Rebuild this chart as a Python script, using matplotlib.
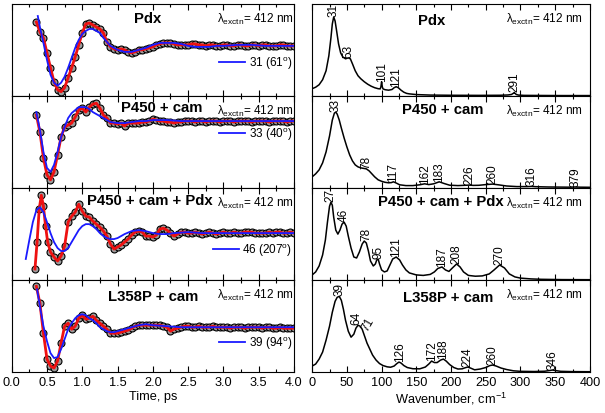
import numpy as np
import matplotlib
matplotlib.use('Agg')
import matplotlib.pyplot as plt
from matplotlib.ticker import MultipleLocator
from matplotlib.lines import Line2D

plt.rcParams['font.family'] = ['Liberation Sans', 'DejaVu Sans']
plt.rcParams['mathtext.fontset'] = 'custom'
plt.rcParams['mathtext.rm'] = 'Liberation Sans'
plt.rcParams['mathtext.it'] = 'Liberation Sans:italic'
plt.rcParams['mathtext.bf'] = 'Liberation Sans:bold'

### data (arbitrary units, panel height ~92)
names = ['Pdx', 'P450 + cam', 'P450 + cam + Pdx', 'L358P + cam']
fit_freq = [31, 33, 46, 39]
fit_phase = [61, 40, 207, 94]

# time-domain data + fit (t in ps, signal)
trace_pdx = [(0.35, 74), (0.40, 64), (0.45, 58), (0.50, 43), (0.55, 28), (0.60, 14), (0.65, 6), (0.70, 4),
             (0.75, 8), (0.80, 18), (0.85, 28), (0.90, 39), (0.95, 51), (1.00, 63), (1.05, 72), (1.10, 73),
             (1.15, 71), (1.20, 69), (1.25, 67), (1.30, 63), (1.35, 54), (1.40, 49), (1.45, 47), (1.50, 46),
             (1.55, 47), (1.60, 46), (1.65, 44), (1.70, 43), (1.75, 44), (1.80, 46), (1.85, 46), (1.90, 47),
             (1.95, 48), (2.00, 49), (2.05, 51), (2.10, 52), (2.15, 53), (2.20, 53), (2.25, 53), (2.30, 52),
             (2.35, 51), (2.40, 51), (2.45, 51), (2.50, 51), (2.55, 52), (2.60, 52), (2.65, 51), (2.70, 51),
             (2.75, 50), (2.80, 51), (2.85, 51), (2.90, 50), (2.95, 50), (3.00, 51), (3.05, 51), (3.10, 50),
             (3.15, 50), (3.20, 51), (3.25, 51), (3.30, 50), (3.35, 50), (3.40, 51), (3.45, 51), (3.50, 50),
             (3.55, 51), (3.60, 51), (3.65, 50), (3.70, 50), (3.75, 50), (3.80, 51), (3.85, 51), (3.90, 50),
             (3.95, 50), (4.00, 50)]
trace_p450 = [(0.35, 73), (0.40, 56), (0.45, 30), (0.50, 13), (0.55, 8), (0.60, 16), (0.65, 33), (0.70, 51),
              (0.75, 61), (0.80, 63), (0.85, 65), (0.90, 71), (0.95, 78), (1.00, 80), (1.05, 76), (1.10, 81),
              (1.15, 84), (1.20, 85), (1.25, 80), (1.30, 73), (1.35, 70), (1.40, 65), (1.45, 65), (1.50, 64),
              (1.55, 65), (1.60, 62), (1.65, 65), (1.70, 65), (1.75, 65), (1.80, 65), (1.85, 66), (1.90, 66),
              (1.95, 67), (2.00, 69), (2.05, 68), (2.10, 67), (2.15, 67), (2.20, 66), (2.25, 66), (2.30, 65),
              (2.35, 66), (2.40, 66), (2.45, 67), (2.50, 67), (2.55, 67), (2.60, 66), (2.65, 67), (2.70, 67),
              (2.75, 66), (2.80, 67), (2.85, 67), (2.90, 67), (2.95, 66), (3.00, 67), (3.05, 67), (3.10, 67),
              (3.15, 66), (3.20, 67), (3.25, 67), (3.30, 67), (3.35, 67), (3.40, 66), (3.45, 67), (3.50, 67),
              (3.55, 67), (3.60, 67), (3.65, 66), (3.70, 67), (3.75, 67), (3.80, 67), (3.85, 67), (3.90, 66),
              (3.95, 67), (4.00, 67)]
trace_mix = [(0.33, 11), (0.36, 38), (0.39, 71), (0.42, 85), (0.45, 74), (0.48, 54), (0.51, 38), (0.55, 28),
             (0.60, 23), (0.65, 19), (0.70, 24), (0.75, 34), (0.80, 58), (0.85, 64), (0.90, 68), (0.95, 76),
             (1.00, 69), (1.05, 64), (1.10, 63), (1.15, 59), (1.20, 56), (1.25, 53), (1.30, 49), (1.35, 44),
             (1.40, 36), (1.45, 31), (1.50, 33), (1.55, 35), (1.60, 38), (1.65, 41), (1.70, 45), (1.75, 48),
             (1.80, 49), (1.85, 48), (1.90, 44), (1.95, 44), (2.00, 43), (2.05, 45), (2.10, 51), (2.15, 52),
             (2.20, 50), (2.25, 47), (2.30, 44), (2.35, 46), (2.40, 48), (2.45, 48), (2.50, 47), (2.55, 47),
             (2.60, 48), (2.65, 47), (2.70, 46), (2.75, 47), (2.80, 48), (2.85, 47), (2.90, 46), (2.95, 47),
             (3.00, 48), (3.05, 47), (3.10, 47), (3.15, 48), (3.20, 47), (3.25, 47), (3.30, 48), (3.35, 48),
             (3.40, 48), (3.45, 47), (3.50, 47), (3.55, 47), (3.60, 47), (3.65, 48), (3.70, 47), (3.75, 48),
             (3.80, 48), (3.85, 47), (3.90, 47), (3.95, 48), (4.00, 47)]
trace_l358p = [(0.35, 86), (0.40, 69), (0.45, 39), (0.50, 13), (0.55, 6), (0.60, 4), (0.65, 11), (0.70, 29),
               (0.75, 46), (0.80, 49), (0.85, 43), (0.90, 46), (0.95, 54), (1.00, 57), (1.05, 53), (1.10, 54),
               (1.15, 56), (1.20, 52), (1.25, 49), (1.30, 46), (1.35, 43), (1.40, 39), (1.45, 39), (1.50, 39),
               (1.55, 40), (1.60, 41), (1.65, 42), (1.70, 44), (1.75, 46), (1.80, 47), (1.85, 47), (1.90, 47),
               (1.95, 47), (2.00, 47), (2.05, 47), (2.10, 47), (2.15, 46), (2.20, 45), (2.25, 41), (2.30, 43),
               (2.35, 44), (2.40, 45), (2.45, 46), (2.50, 46), (2.55, 45), (2.60, 45), (2.65, 46), (2.70, 45),
               (2.75, 45), (2.80, 45), (2.85, 46), (2.90, 45), (2.95, 45), (3.00, 45), (3.05, 45), (3.10, 44),
               (3.15, 45), (3.20, 45), (3.25, 45), (3.30, 44), (3.35, 45), (3.40, 45), (3.45, 45), (3.50, 45),
               (3.55, 44), (3.60, 45), (3.65, 45), (3.70, 44), (3.75, 44), (3.80, 45), (3.85, 44), (3.90, 44),
               (3.95, 44), (4.00, 44)]

# single-mode model (blue)
blue_pdx = [(0.37, 80), (0.40, 69), (0.45, 53), (0.50, 36), (0.55, 21), (0.60, 13), (0.65, 10), (0.70, 13),
            (0.75, 19), (0.80, 28), (0.85, 38), (0.90, 48), (0.95, 56), (1.00, 62), (1.05, 65), (1.10, 67),
            (1.15, 67), (1.20, 65), (1.25, 63), (1.30, 58), (1.35, 54), (1.40, 50), (1.45, 48), (1.50, 46),
            (1.55, 45), (1.60, 44), (1.65, 44), (1.70, 44), (1.75, 45), (1.80, 46), (1.90, 48), (2.00, 51),
            (2.10, 53), (2.20, 53), (2.30, 53), (2.40, 52), (2.50, 50), (2.60, 49), (2.70, 49), (2.80, 49),
            (2.90, 50), (3.00, 50), (3.20, 51), (3.40, 51), (3.60, 50), (3.80, 50), (4.00, 50)]
blue_p450 = [(0.35, 76), (0.40, 58), (0.45, 36), (0.50, 20), (0.55, 16), (0.60, 23), (0.65, 36), (0.70, 51),
             (0.75, 61), (0.80, 70), (0.85, 75), (0.90, 78), (0.95, 81), (1.00, 81), (1.05, 81), (1.10, 79),
             (1.15, 76), (1.20, 74), (1.25, 72), (1.30, 70), (1.35, 68), (1.40, 66), (1.50, 65), (1.60, 65),
             (1.70, 66), (1.80, 67), (1.90, 67), (2.00, 68), (2.20, 68), (2.40, 67), (2.70, 67), (3.00, 67),
             (3.50, 67), (4.00, 67)]
blue_mix = [(0.20, 21), (0.25, 40), (0.30, 58), (0.35, 70), (0.40, 73), (0.45, 68), (0.50, 58), (0.55, 47),
            (0.60, 38), (0.65, 32), (0.70, 29), (0.75, 29), (0.80, 32), (0.85, 38), (0.90, 44), (0.95, 50),
            (1.00, 54), (1.05, 56), (1.10, 56), (1.15, 54), (1.20, 51), (1.25, 47), (1.30, 44), (1.35, 42),
            (1.40, 41), (1.45, 41), (1.50, 42), (1.55, 44), (1.60, 46), (1.70, 49), (1.80, 50), (1.90, 49),
            (2.00, 47), (2.10, 46), (2.20, 46), (2.30, 47), (2.50, 48), (2.70, 47), (3.00, 47), (3.50, 47),
            (4.00, 47)]
blue_l358p = [(0.36, 83), (0.40, 66), (0.45, 46), (0.50, 31), (0.55, 19), (0.60, 14), (0.65, 15), (0.70, 23),
              (0.75, 33), (0.80, 43), (0.85, 49), (0.90, 54), (0.95, 57), (1.00, 58), (1.05, 57), (1.10, 54),
              (1.15, 52), (1.20, 49), (1.25, 45), (1.30, 43), (1.35, 41), (1.40, 40), (1.45, 40), (1.50, 41),
              (1.60, 43), (1.70, 45), (1.80, 47), (1.90, 48), (2.00, 47), (2.20, 46), (2.40, 45), (2.70, 45),
              (3.00, 45), (4.00, 45)]

# spectra (wavenumber cm-1, intensity)
spec_pdx = [(0, 7), (5, 8.5), (10, 11), (15, 16), (20, 25), (24, 40), (27, 58), (29, 72), (31, 79), (33, 75),
            (35, 66), (38, 52), (41, 43), (44, 39), (48, 37), (52, 38), (55, 37), (58, 32), (62, 25), (66, 20),
            (70, 17), (75, 14), (80, 11.5), (85, 9.5), (90, 8), (95, 7), (98, 6.8), (99, 9), (100, 14), (101, 9),
            (102, 6.8), (105, 6), (110, 5.5), (115, 6.2), (118, 8), (121, 9), (124, 8), (128, 5.5), (132, 3.5),
            (136, 2.3), (140, 1.8), (150, 1.1), (170, 0.6), (200, 0.4), (240, 0.3), (270, 0.4), (282, 0.7),
            (287, 1.2), (290, 2.5), (291, 3.2), (292, 2.5), (294, 1.2), (297, 0.6), (305, 0.3), (330, 0.2),
            (360, 0.1), (400, 0.1)]
spec_p450 = [(0, 11), (5, 14), (10, 18), (15, 25), (20, 36), (25, 52), (29, 68), (32, 75), (34, 76), (36, 74),
             (39, 68), (42, 60), (46, 50), (50, 41), (54, 33), (58, 27), (62, 23), (66, 21), (70, 20), (74, 19.5),
             (78, 19), (82, 17), (86, 14), (90, 11), (95, 8), (100, 6.5), (105, 5.5), (110, 5), (114, 5.2),
             (117, 6), (121, 4.8), (126, 3), (135, 2.2), (145, 2.2), (155, 3), (162, 4), (168, 3.2), (175, 4),
             (183, 6), (190, 4.3), (198, 2.6), (210, 2.2), (220, 2.5), (226, 2.7), (232, 2.4), (240, 2.5),
             (250, 3.2), (260, 3.7), (268, 3), (280, 1.8), (295, 1.2), (310, 1.2), (316, 1.4), (322, 1.1),
             (340, 0.8), (370, 0.6), (379, 0.8), (386, 0.6), (400, 0.5)]
spec_mix = [(0, 5), (5, 8), (10, 14), (15, 25), (19, 40), (22, 58), (25, 74), (27, 78), (29, 75), (31, 63),
            (34, 50), (37, 46), (40, 50), (43, 56), (46, 58), (49, 54), (52, 44), (56, 32), (60, 23), (64, 22),
            (68, 28), (72, 36), (75, 39), (78, 37), (81, 29), (84, 19), (88, 14), (91, 16), (93, 20), (95, 21),
            (97, 16), (100, 10), (104, 8), (108, 9), (112, 15), (116, 21), (121, 23), (126, 20), (130, 15),
            (135, 10), (140, 7), (150, 5), (160, 4.5), (170, 5.5), (176, 8), (181, 11.5), (187, 13), (192, 10),
            (197, 8.5), (202, 12), (208, 16), (213, 13), (218, 8), (225, 4.5), (235, 3.7), (245, 4), (255, 6),
            (262, 10), (270, 15), (277, 12), (284, 6), (292, 3), (300, 1.8), (315, 1.0), (330, 0.6), (360, 0.3),
            (400, 0.2)]
spec_l358p = [(0, 6), (5, 8), (10, 13), (15, 20), (20, 32), (25, 46), (29, 60), (33, 71), (36, 75), (39, 76),
              (42, 72), (45, 63), (48, 52), (52, 41), (56, 35), (60, 38), (63, 44), (66, 47), (69, 46), (72, 43),
              (75, 37), (79, 29), (83, 23), (87, 17), (92, 12), (97, 8.5), (102, 6.5), (108, 5.2), (113, 4.8),
              (118, 6), (122, 8.5), (125, 10), (128, 9), (132, 6.5), (137, 4.5), (145, 3.3), (155, 3.2),
              (163, 5), (168, 8), (172, 11), (176, 9.5), (180, 9.5), (185, 12), (189, 13), (193, 11), (198, 7.5),
              (204, 4.5), (210, 3), (216, 3.2), (220, 4.2), (224, 5), (228, 4), (234, 2.2), (242, 3), (250, 4.5),
              (256, 6.5), (260, 7), (265, 6), (272, 4), (280, 2.5), (290, 1.2), (300, 0.7), (320, 0.5),
              (335, 0.8), (342, 1.5), (346, 2), (350, 1.5), (358, 0.7), (375, 0.4), (400, 0.3)]

peaks_pdx = [31, 53, 101, 121, 291]
peaks_p450 = [33, 78, 117, 162, 183, 226, 260, 316, 379]
peaks_mix = [27, 46, 78, 95, 121, 187, 208, 270]
peaks_l358p = [39, 64, 71, 126, 172, 188, 224, 260, 346]

traces = [trace_pdx, trace_p450, trace_mix, trace_l358p]
blues = [blue_pdx, blue_p450, blue_mix, blue_l358p]
spectra = [spec_pdx, spec_p450, spec_mix, spec_l358p]
peaks = [peaks_pdx, peaks_p450, peaks_mix, peaks_l358p]

### layout
bottoms = [0.7665, 0.544, 0.3215, 0.099]
ph = 0.2225
ytop = 92.5
title_xl = [0.48, 0.53, 0.49, 0.50]
title_yl = [0.84, 0.88, 0.87, 0.83]
leg_y = [0.36, 0.59, 0.33, 0.32]
title_xr = [0.43, 0.47, 0.465, 0.49]
title_yr = [0.82, 0.86, 0.86, 0.81]
lam = 'λ$_{\\mathrm{exctn}}$= 412 nm'
fs = 8.5
fs_ax = 9.2

fig = plt.figure(figsize=(6.05, 4.14), dpi=100)

for i in range(4):
    axl = fig.add_axes([0.0193, bottoms[i], 0.4666, ph])
    axr = fig.add_axes([0.516, bottoms[i], 0.459, ph])

    tr = np.array(traces[i], dtype=float)
    bl = np.array(blues[i], dtype=float)
    axl.plot(tr[:, 0], tr[:, 1], 'o', ms=5, mfc='#9c9c9c', mec='#000000', mew=0.8, zorder=2)
    axl.plot(tr[:, 0], tr[:, 1], '-', color='#ee1111', lw=2.0, zorder=3)
    axl.plot(bl[:, 0], bl[:, 1], '-', color='#1a1aff', lw=1.3, zorder=4)
    axl.set_xlim(0, 4.0)
    axl.set_ylim(0, ytop)
    axl.xaxis.set_major_locator(MultipleLocator(0.5))
    axl.xaxis.set_minor_locator(MultipleLocator(0.25))
    axl.text(title_xl[i], title_yl[i], names[i], transform=axl.transAxes, ha='center', va='center',
             fontsize=10.7, fontweight='bold')
    axl.text(0.997, 0.84, lam, transform=axl.transAxes, ha='right', va='center', fontsize=fs)
    h = Line2D([], [], color='#1a1aff', lw=1.3)
    axl.legend([h], ['%d (%d$^{\\mathrm{o}}$)' % (fit_freq[i], fit_phase[i])], loc='center right',
               bbox_to_anchor=(0.995, leg_y[i]), frameon=False, fontsize=fs, handlelength=2.2,
               handletextpad=0.3, borderpad=0, borderaxespad=0)

    sp = np.array(spectra[i], dtype=float)
    axr.plot(sp[:, 0], sp[:, 1], 'k-', lw=1.1)
    axr.set_xlim(0, 400)
    axr.set_ylim(0, ytop)
    axr.xaxis.set_major_locator(MultipleLocator(50))
    axr.xaxis.set_minor_locator(MultipleLocator(25))
    axr.text(title_xr[i], title_yr[i], names[i], transform=axr.transAxes, ha='center', va='center',
             fontsize=10.7, fontweight='bold')
    axr.text(0.975, 0.84, lam, transform=axr.transAxes, ha='right', va='center', fontsize=fs)
    for p in peaks[i]:
        near = (sp[:, 0] >= p - 3) & (sp[:, 0] <= p + 3)
        yp = sp[near, 1].max() if near.any() else np.interp(p, sp[:, 0], sp[:, 1])
        if i == 3 and p == 71:
            axr.text(p + 9, yp + 2, str(p), rotation=60, ha='center', va='center', fontsize=fs)
        else:
            axr.text(p, yp + 1.2, str(p), rotation=90, ha='center', va='bottom', fontsize=fs)

    for ax in (axl, axr):
        ax.tick_params(which='both', direction='in', top=True, bottom=True, left=False, right=False,
                       labelleft=False, labelbottom=(i == 3), labelsize=fs_ax, width=0.8, pad=3)
        ax.tick_params(which='major', length=4)
        ax.tick_params(which='minor', length=2.5)
        for s in ax.spines.values():
            s.set_linewidth(0.8)
        ax.set_yticks([])

    if i == 3:
        axl.xaxis.set_major_formatter(plt.FormatStrFormatter('%.1f'))
        axl.set_xlabel('Time, ps', fontsize=fs_ax, labelpad=1)
        axr.set_xlabel('Wavenumber, cm$^{-1}$', fontsize=fs_ax, labelpad=1)

plt.savefig('out.png', dpi=100)
